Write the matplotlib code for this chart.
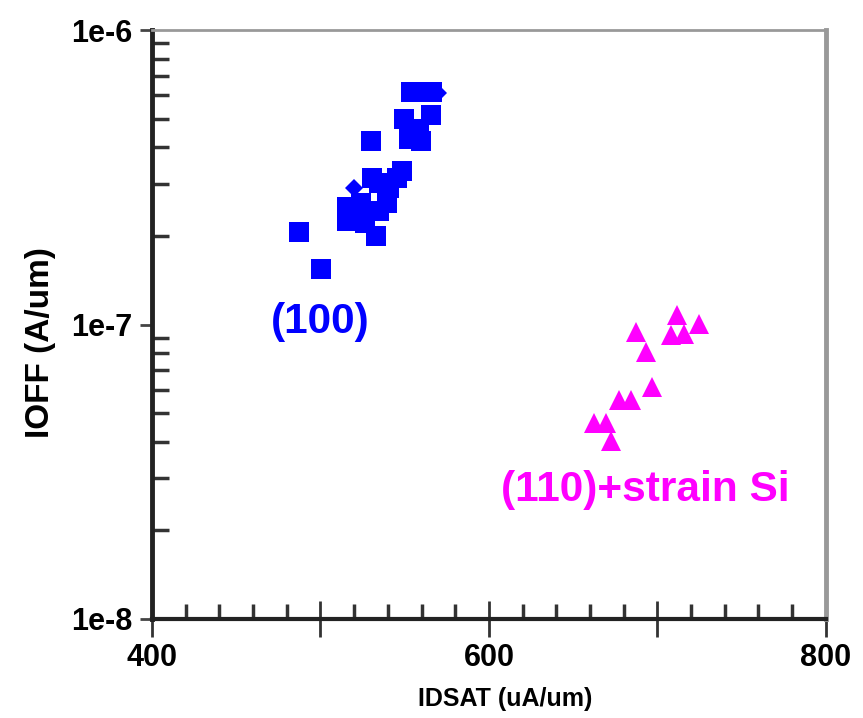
import matplotlib
matplotlib.use('Agg')
import matplotlib.pyplot as plt
from matplotlib.ticker import FixedLocator, FixedFormatter, LogLocator, NullFormatter, MultipleLocator
import numpy as np

plt.rcParams['font.family'] = ['Liberation Sans', 'DejaVu Sans']
plt.rcParams['font.weight'] = 'bold'

# (100) wafers
idsat_100 = [487.2, 500.3, 530.0, 515.7, 515.7, 524.0, 530.6, 534.7, 532.9, 534.7,
             526.4, 540.7, 539.5, 548.4, 545.4, 549.6, 552.5, 559.6, 558.5, 565.6,
             553.7, 561.4, 566.2]
ioff_100 = [2.06e-7, 1.54e-7, 4.21e-7, 2.51e-7, 2.25e-7, 2.59e-7, 3.14e-7, 3.02e-7, 2.00e-7, 2.43e-7,
            2.22e-7, 2.90e-7, 2.59e-7, 3.31e-7, 3.14e-7, 4.99e-7, 4.28e-7, 4.21e-7, 4.61e-7, 5.14e-7,
            6.15e-7, 6.15e-7, 6.15e-7]
idsat_100_d = [519.9, 569.7]
ioff_100_d = [2.90e-7, 6.12e-7]

# (110) + strained Si
idsat_110 = [662.3, 669.4, 672.4, 677.2, 684.3, 696.7, 687.2, 693.2, 711.6, 708.0, 715.7, 724.6]
ioff_110 = [4.64e-8, 4.64e-8, 4.03e-8, 5.52e-8, 5.52e-8, 6.12e-8, 9.46e-8, 8.07e-8, 1.08e-7, 9.24e-8,
            9.31e-8, 1.007e-7]

x_major = [400, 500, 600, 700, 800]
x_labels = ['400', '', '600', '', '800']
y_major = [1e-8, 1e-7, 1e-6]
y_labels = ['1e-8', '1e-7', '1e-6']

fig = plt.figure(figsize=(8.63, 7.18), dpi=100)
ax = fig.add_axes([0.1761, 0.1379, 0.7809, 0.8203])

ax.plot(idsat_100, ioff_100, 's', color='#0000ff', ms=14, mew=0)
ax.plot(idsat_100_d, ioff_100_d, 'D', color='#0000ff', ms=9, mew=0)
ax.plot(idsat_110, ioff_110, '^', color='#ff00ff', ms=14, mew=0)

ax.set_yscale('log')
ax.set_xlim(400, 800)
ax.set_ylim(1e-8, 1e-6)

ax.xaxis.set_major_locator(FixedLocator(x_major))
ax.xaxis.set_major_formatter(FixedFormatter(x_labels))
ax.xaxis.set_minor_locator(MultipleLocator(20))
ax.yaxis.set_major_locator(FixedLocator(y_major))
ax.yaxis.set_major_formatter(FixedFormatter(y_labels))
ax.yaxis.set_minor_locator(LogLocator(base=10, subs=np.arange(2, 10)))
ax.yaxis.set_minor_formatter(NullFormatter())

ax.tick_params(axis='x', which='major', direction='inout', length=26, width=2,
               color='#333333', labelsize=22, pad=4)
ax.tick_params(axis='x', which='minor', direction='in', length=11, width=2.5, color='#333333')
ax.tick_params(axis='y', which='major', direction='out', length=9, width=2,
               color='#444444', labelsize=22, pad=5)
ax.tick_params(axis='y', which='minor', direction='in', length=12, width=2.5, color='#333333')
for lab in ax.get_xticklabels() + ax.get_yticklabels():
    lab.set_fontweight('bold')

ax.spines['left'].set_linewidth(3.5)
ax.spines['left'].set_color('#222222')
ax.spines['bottom'].set_linewidth(3)
ax.spines['bottom'].set_color('#222222')
ax.spines['top'].set_linewidth(2)
ax.spines['top'].set_color('#999999')
ax.spines['right'].set_linewidth(3.5)
ax.spines['right'].set_color('#999999')

ax.set_xlabel('IDSAT (uA/um)', fontsize=18, fontweight='bold')
ax.xaxis.set_label_coords(0.524, -0.115)
ax.set_ylabel('IOFF (A/um)', fontsize=24, fontweight='bold')
ax.yaxis.set_label_coords(-0.142, 0.47)

ax.text(500, 1.02e-7, '(100)', color='#0000ff', fontsize=30.5, fontweight='bold',
        ha='center', va='center')
ax.text(693, 2.75e-8, '(110)+strain Si', color='#ff00ff', fontsize=30.5, fontweight='bold',
        ha='center', va='center')

fig.savefig('out.png', dpi=100)
